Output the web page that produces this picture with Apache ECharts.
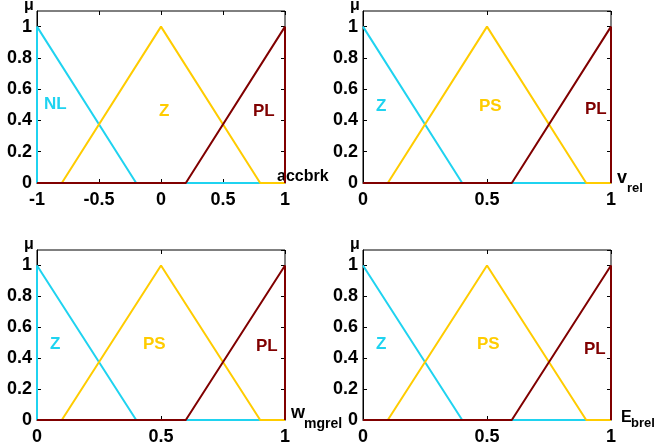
<!DOCTYPE html>
<html>
<head>
<meta charset="utf-8">
<script src="https://cdn.jsdelivr.net/npm/echarts@6/dist/echarts.min.js"></script>
<style>
html,body{margin:0;padding:0;background:#fff;}
#c{width:656px;height:446px;}
</style>
</head>
<body>
<div id="c"></div>
<script>
// Panel 1: accbrk
const accNL = [[-1,0],[-1,1],[-0.2,0],[1,0]];
const accZ  = [[-1,0],[-0.8,0],[0,1],[0.8,0],[1,0]];
const accPL = [[-1,0],[0.2,0],[1,1],[1,0]];
// Panel 2: v_rel
const vZ  = [[0,1],[0.4,0],[1,0]];
const vPS = [[0,0],[0.1,0],[0.5,1],[0.9,0],[1,0]];
const vPL = [[0,0],[0.6,0],[1,1],[1,0]];
// Panel 3: w_mgrel
const wZ  = [[0,0],[0,1],[0.4,0],[1,0]];
const wPS = [[0,0],[0.1,0],[0.5,1],[0.9,0],[1,0]];
const wPL = [[0,0],[0.6,0],[1,1],[1,0]];
// Panel 4: E_brel
const eZ  = [[0,1],[0.4,0],[1,0]];
const ePS = [[0,0],[0.1,0],[0.5,1],[0.9,0],[1,0]];
const ePL = [[0,0],[0.6,0],[1,1],[1,0]];

const xRanges = [[-1,1],[0,1],[0,1],[0,1]];

const C_CYAN = '#1FD3F0', C_YEL = '#FFCC00', C_RED = '#800000';
const FF = '"Liberation Sans", Arial, Helvetica, sans-serif';

const grids = [
  {left:37, top:11, width:248, height:172},
  {left:363, top:11, width:248, height:172},
  {left:37, top:250, width:248, height:172},
  {left:363, top:250, width:248, height:172}
];

const xAxes = [], yAxes = [];
grids.forEach((g,i)=>{
  xAxes.push({
    type:'value', gridIndex:i, min:xRanges[i][0], max:xRanges[i][1], interval:0.5,
    axisLine:{show:true, onZero:false, lineStyle:{color:'#000', width:1}},
    axisTick:{show:true, inside:true, length:4, lineStyle:{color:'#000'}},
    splitLine:{show:false},
    axisLabel:{color:'#000', fontFamily:FF, fontWeight:'bold', fontSize:18, margin:8,
      formatter:v=>String(Math.round(v*10)/10)}
  });
  xAxes.push({
    type:'value', gridIndex:i, position:'top', min:xRanges[i][0], max:xRanges[i][1], interval:0.5,
    axisLine:{show:false, onZero:false}, axisTick:{show:true, inside:true, length:4, lineStyle:{color:'#000'}},
    splitLine:{show:false}, axisLabel:{show:false}
  });
  yAxes.push({
    type:'value', gridIndex:i, min:0, max:1.1, interval:0.2,
    axisLine:{show:true, onZero:false, lineStyle:{color:'#000', width:1}},
    axisTick:{show:true, inside:true, length:4, lineStyle:{color:'#000'}},
    splitLine:{show:false},
    axisLabel:{color:'#000', fontFamily:FF, fontWeight:'bold', fontSize:18, margin:5,
      showMaxLabel:false,
      formatter:v=>{const r=Math.round(v*10)/10; return r>1 ? '' : String(r);}}
  });
  yAxes.push({
    type:'value', gridIndex:i, position:'right', min:0, max:1.1, interval:0.2,
    axisLine:{show:false, onZero:false}, axisTick:{show:true, inside:true, length:4, lineStyle:{color:'#000'}},
    splitLine:{show:false}, axisLabel:{show:false}
  });
});

const panelSeries = [
  [accNL, accZ, accPL],
  [vZ, vPS, vPL],
  [wZ, wPS, wPL],
  [eZ, ePS, ePL]
];
const colors = [C_CYAN, C_YEL, C_RED];
const series = [];
panelSeries.forEach((arrs,i)=>{
  arrs.forEach((d,j)=>{
    series.push({
      type:'line', xAxisIndex:i*2, yAxisIndex:i*2, data:d,
      showSymbol:false, symbol:'none', animation:false,
      lineStyle:{color:colors[j], width:2}, itemStyle:{color:colors[j]},
      clip:false
    });
  });
});

function txt(x,y,t,size,color){
  return {type:'text', x:x, y:y, silent:true,
    style:{text:t, fill:color, fontFamily:FF, fontWeight:'bold', fontSize:size, verticalAlign:'middle', align:'left'}};
}
const graphics = [
  // mu labels
  txt(24,6,'μ',16,'#000'), txt(350,6,'μ',16,'#000'),
  txt(24,245,'μ',16,'#000'), txt(350,245,'μ',16,'#000'),
  // panel 1 labels
  txt(44,104,'NL',17,C_CYAN), txt(159,111,'Z',17,C_YEL), txt(253,111,'PL',17,C_RED),
  // panel 2
  txt(376,106,'Z',17,C_CYAN), txt(479,106,'PS',17,C_YEL), txt(585,109,'PL',17,C_RED),
  // panel 3
  txt(50,344,'Z',17,C_CYAN), txt(143,344,'PS',17,C_YEL), txt(256,346,'PL',17,C_RED),
  // panel 4
  txt(376,344,'Z',17,C_CYAN), txt(477,344,'PS',17,C_YEL), txt(584,349,'PL',17,C_RED),
  // axis names
  txt(277,177,'accbrk',16,'#000'),
  txt(617,178,'v',18,'#000'), txt(627,188,'rel',13,'#000'),
  txt(291,413,'w',18,'#000'), txt(304,424,'mgrel',14,'#000'),
  txt(621,418,'E',16,'#000'), txt(631,423,'brel',13,'#000')
];

const chart = echarts.init(document.getElementById('c'), null, {renderer:'canvas'});
chart.setOption({
  animation:false,
  backgroundColor:'#fff',
  grid: grids.map(g=>Object.assign({show:true, borderColor:'#000', borderWidth:1, backgroundColor:'transparent'}, g)),
  xAxis: xAxes,
  yAxis: yAxes,
  series: series,
  graphic: graphics
});
</script>
</body>
</html>
